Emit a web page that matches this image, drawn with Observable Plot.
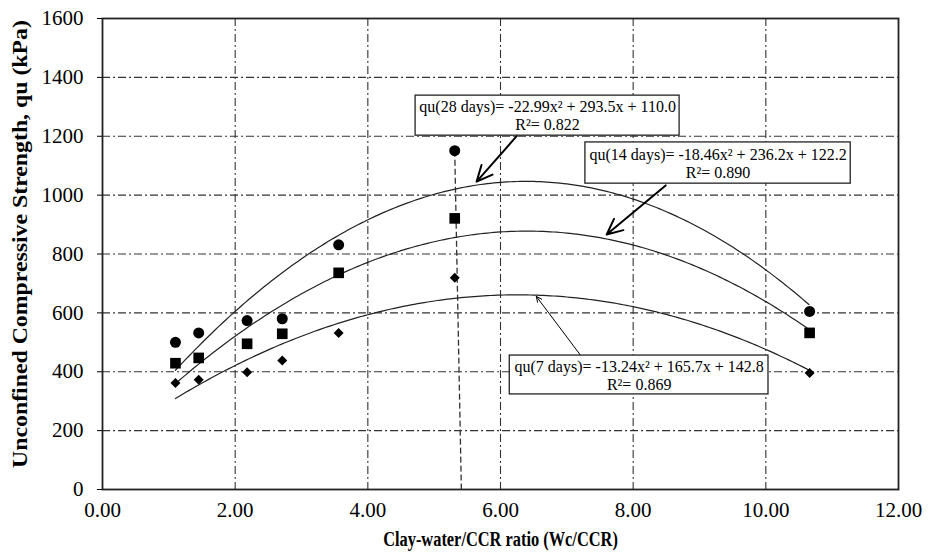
<!DOCTYPE html>
<html>
<head>
<meta charset="utf-8">
<script src="https://cdn.jsdelivr.net/npm/d3@7"></script>
<script src="https://cdn.jsdelivr.net/npm/@observablehq/plot@0.6"></script>
<style>
  body { margin: 0; background: #fff; }
  #chart svg { display: block; }
</style>
</head>
<body>
<div id="chart"></div>
<script>
// Clay-water/CCR ratio for each mix
const ratio = [1.10, 1.45, 2.18, 2.71, 3.56, 5.31, 10.66];
// Unconfined compressive strength (kPa) by curing time
const qu28 = [500, 532, 574, 580, 831, 1151, 605];
const qu14 = [429, 447, 495, 529, 736, 921, 532];
const qu7  = [362, 373, 398, 438, 532, 719, 396];

// Quadratic trend lines: [a, b, c] for a·x² + b·x + c, with R²
const fit28 = [-22.99, 293.5, 110.0];
const fit14 = [-18.46, 236.2, 122.2];
const fit7  = [-13.24, 165.7, 142.8];
const r2 = [0.822, 0.890, 0.869];
const ages = ["28 days", "14 days", "7 days"];

// Axis ticks and titles
const xTicks = [0, 2, 4, 6, 8, 10, 12];
const yTicks = [0, 200, 400, 600, 800, 1000, 1200, 1400, 1600];
const xTitle = "Clay-water/CCR ratio (Wc/CCR)";
const yTitle = "Unconfined Compressive Strength, qu (kPa)";

// Drop line under the 5.31 mix (top at its 28-day value, foot on the axis)
const dropFootX = 5.41;

// Equation boxes (data units): box extent, text centre, arrow from -> to
const boxX1 = [4.72, 7.28, 6.14];
const boxX2 = [8.70, 11.28, 10.04];
const boxY1 = [1202, 1039, 323];
const boxY2 = [1338, 1179, 455];
const noteX = [6.71, 9.28, 8.09];
const noteY = [1270, 1108, 388];
const arrowX1 = [6.25, 8.49, 7.21];
const arrowY1 = [1202, 1033, 455];
const arrowX2 = [5.64, 7.60, 6.54];
const arrowY2 = [1046, 866, 656];
const arrowWidth = [2, 2, 1];
const arrowHead = [13, 13, 9];

const fits = [fit28, fit14, fit7];
const fmt = (v, d) => v.toFixed(d);
const equation = (f, i) =>
  `qu(${ages[i]})= ${fmt(f[0], 2)}x² + ${fmt(f[1], 1)}x + ${fmt(f[2], 1)}\nR²= ${fmt(r2[i], 3)}`;

// Trend curves evaluated over the tested range
const xs = d3.range(ratio[0], ratio[ratio.length - 1] + 1e-9, 0.05);
const curves = fits.flatMap((f, k) =>
  xs.map(x => ({k, x, y: f[0] * x * x + f[1] * x + f[2]})));

const pts = ratio.map((x, i) => ({x, q28: qu28[i], q14: qu14[i], q7: qu7[i]}));
const notes = ages.map((a, i) => ({
  i, text: equation(fits[i], i),
  bx1: boxX1[i], bx2: boxX2[i], by1: boxY1[i], by2: boxY2[i],
  tx: noteX[i], ty: noteY[i],
  ax1: arrowX1[i], ay1: arrowY1[i], ax2: arrowX2[i], ay2: arrowY2[i]
}));

const serif = "Liberation Serif, Times New Roman, serif";
const dash = "8,3,2,3";

const chart = Plot.plot({
  width: 932,
  height: 554,
  marginLeft: 102,
  marginRight: 34,
  marginTop: 18,
  marginBottom: 65,
  style: {fontFamily: serif, fontSize: "21px", color: "#000", background: "#fff"},
  x: {domain: [0, 12]},
  y: {domain: [0, 1600]},
  marks: [
    Plot.gridX(xTicks.slice(1, -1), {stroke: "#333", strokeOpacity: 1, strokeWidth: 1.1, strokeDasharray: dash}),
    Plot.gridY(yTicks.slice(1, -1), {stroke: "#333", strokeOpacity: 1, strokeWidth: 1.1, strokeDasharray: dash}),
    Plot.link([pts[5]], {x1: "x", y1: "q28", x2: () => dropFootX, y2: () => 0, stroke: "#333", strokeWidth: 1.3, strokeDasharray: "6,3"}),
    Plot.line(curves, {x: "x", y: "y", z: "k", stroke: "#222", strokeWidth: 1.2}),
    Plot.dot(pts, {x: "x", y: "q28", symbol: "circle", r: 5.5, fill: "#000", stroke: "none"}),
    Plot.dot(pts, {x: "x", y: "q14", symbol: "square", r: 6, fill: "#000", stroke: "none"}),
    Plot.dot(pts, {x: "x", y: "q7", symbol: "diamond2", r: 4.5, fill: "#000", stroke: "none"}),
    Plot.frame({stroke: "#222", strokeWidth: 1.8}),
    Plot.axisY({ticks: yTicks, tickSize: 5, tickPadding: 14, tickFormat: d => String(d),
      fontFamily: serif, fontSize: 21, label: null}),
    Plot.axisX({ticks: xTicks, tickSize: 0, tickPadding: 13, tickFormat: d => d.toFixed(2),
      fontFamily: serif, fontSize: 21, label: null}),
    ...notes.map(n => Plot.arrow([n], {x1: "ax1", y1: "ay1", x2: "ax2", y2: "ay2", stroke: "#000",
      strokeWidth: arrowWidth[n.i], headLength: arrowHead[n.i], headAngle: 50})),
    Plot.rect(notes, {x1: "bx1", x2: "bx2", y1: "by1", y2: "by2", fill: "#fff", stroke: "#222", strokeWidth: 1.3}),
    Plot.text(notes, {x: "tx", y: "ty", text: "text", fontFamily: serif, fontSize: 16, lineHeight: 1.1, fill: "#000"}),
    Plot.text([xTitle], {frameAnchor: "bottom", dy: 56, fontFamily: serif, fontSize: 20, fontWeight: "bold", fill: "#000"}),
    Plot.text([yTitle], {frameAnchor: "left", textAnchor: "middle", dx: -82, dy: -10, rotate: -90,
      fontFamily: serif, fontSize: 20, fontWeight: "bold", fill: "#000"})
  ]
});

// The axis titles are set in a narrow face: squeeze the x title, stretch the y title along its run
for (const t of chart.querySelectorAll("text")) {
  const tr = t.getAttribute("transform") || "";
  if (t.textContent === xTitle) t.setAttribute("transform", tr + " scale(0.82,1)");
  if (t.textContent === yTitle) t.setAttribute("transform", tr + " scale(1.19,1)");
}

document.getElementById("chart").appendChild(chart);
</script>
</body>
</html>
